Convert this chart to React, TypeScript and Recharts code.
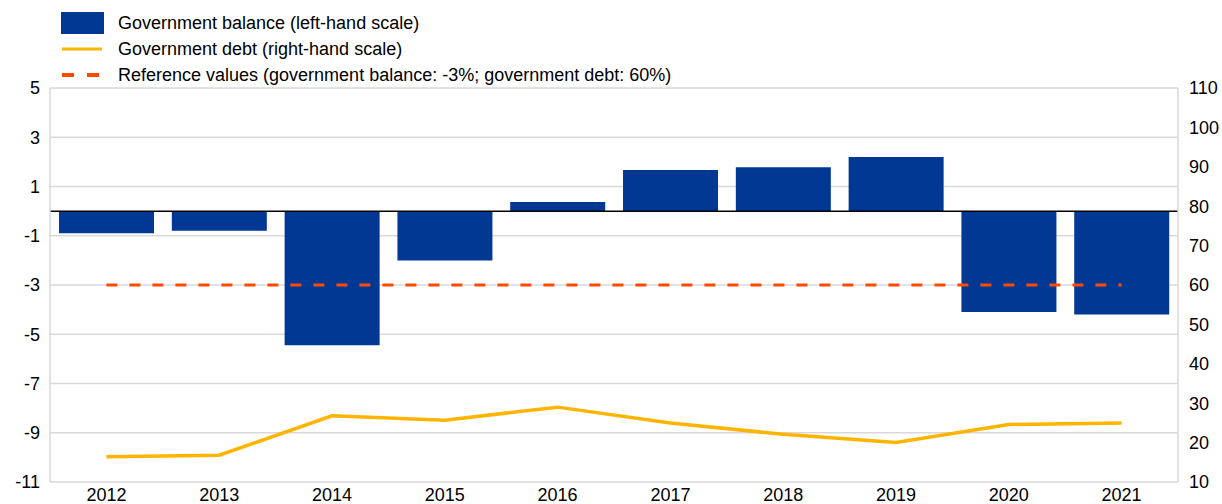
import {
  ComposedChart,
  Bar,
  Line,
  XAxis,
  YAxis,
  CartesianGrid,
  ReferenceLine
} from 'recharts';

const YEARS = ['2012', '2013', '2014', '2015', '2016', '2017', '2018', '2019', '2020', '2021'];
const BALANCE = [-0.9, -0.8, -5.45, -2.0, 0.37, 1.67, 1.78, 2.2, -4.1, -4.2];
const DEBT = [16.4, 16.8, 26.8, 25.7, 29.0, 25.0, 22.1, 20.0, 24.6, 25.0];
const BALANCE_REF = [-3, -3, -3, -3, -3, -3, -3, -3, -3, -3];

const LEFT_TICKS = [-11, -9, -7, -5, -3, -1, 1, 3, 5];
const RIGHT_TICKS = [10, 20, 30, 40, 50, 60, 70, 80, 90, 100, 110];
const BOUNDARY_TICKS = [0, 1, 2, 3, 4, 5, 6, 7, 8, 9, 10];

const LEGEND_LABELS = [
  'Government balance (left-hand scale)',
  'Government debt (right-hand scale)',
  'Reference values (government balance: -3%; government debt: 60%)'
];

const BLUE = '#003894';
const YELLOW = '#FFB400';
const ORANGE = '#FF4B00';
const GRID = '#d9d9d9';
const FONT = "'Liberation Sans', Arial, sans-serif";

const data = YEARS.map((year, i) => ({
  year,
  idx: i + 0.5,
  balance: BALANCE[i],
  debt: DEBT[i],
  balanceRef: BALANCE_REF[i]
}));

function ChartLegend() {
  return (
    <div
      style={{
        position: 'absolute',
        left: 0,
        top: 10,
        fontFamily: FONT,
        fontSize: 18,
        color: '#000',
        whiteSpace: 'nowrap'
      }}
    >
      {LEGEND_LABELS.map((label, i) => (
        <div key={label} style={{ display: 'flex', alignItems: 'center', height: 26 }}>
          <svg width={118} height={26} style={{ flex: 'none' }}>
            {i === 0 && <rect x={61} y={2} width={43} height={22} fill={BLUE} />}
            {i === 1 && <line x1={62} x2={102} y1={13} y2={13} stroke={YELLOW} strokeWidth={3} />}
            {i === 2 && (
              <line x1={62} x2={99} y1={13} y2={13} stroke={ORANGE} strokeWidth={4} strokeDasharray="12 13" />
            )}
          </svg>
          <span>{label}</span>
        </div>
      ))}
    </div>
  );
}

export default function App() {
  return (
    <div style={{ position: 'absolute', left: 0, top: 0, width: 1222, height: 504, background: '#fff' }}>
      <ComposedChart
        width={1222}
        height={504}
        data={data}
        margin={{ top: 88, right: 0, bottom: 0, left: 0 }}
        barCategoryGap="8%"
      >
        <CartesianGrid vertical={false} stroke={GRID} strokeWidth={1.5} yAxisId="left" />
        <XAxis
          xAxisId="bounds"
          type="number"
          dataKey="idx"
          domain={[0, 10]}
          ticks={BOUNDARY_TICKS}
          height={0}
          axisLine={{ stroke: GRID, strokeWidth: 1.5 }}
          tickLine={{ stroke: GRID }}
          tickSize={5}
          tickFormatter={() => ''}
        />
        <XAxis
          dataKey="year"
          height={22}
          axisLine={false}
          tickLine={false}
          tickSize={0}
          tickMargin={6}
          interval={0}
          tick={{ fill: '#000', fontSize: 18, fontFamily: FONT }}
        />
        <YAxis
          yAxisId="left"
          orientation="left"
          width={50}
          domain={[-11, 5]}
          ticks={LEFT_TICKS}
          interval={0}
          axisLine={{ stroke: GRID, strokeWidth: 1.5 }}
          tickLine={false}
          tickSize={0}
          tickMargin={10}
          tick={{ fill: '#000', fontSize: 18, fontFamily: FONT }}
        />
        <YAxis
          yAxisId="right"
          orientation="right"
          width={44}
          domain={[10, 110]}
          ticks={RIGHT_TICKS}
          interval={0}
          axisLine={{ stroke: GRID, strokeWidth: 1.5 }}
          tickLine={false}
          tickSize={0}
          tickMargin={11}
          tick={{ fill: '#000', fontSize: 18, fontFamily: FONT }}
        />
        <Bar yAxisId="left" dataKey="balance" fill={BLUE} isAnimationActive={false} />
        <ReferenceLine yAxisId="left" y={0} stroke="#000" strokeWidth={1.5} />
        <Line
          yAxisId="left"
          dataKey="balanceRef"
          stroke={ORANGE}
          strokeWidth={3}
          strokeDasharray="11 12"
          dot={false}
          activeDot={false}
          isAnimationActive={false}
        />
        <Line
          yAxisId="right"
          dataKey="debt"
          stroke={YELLOW}
          strokeWidth={3.5}
          dot={false}
          activeDot={false}
          isAnimationActive={false}
        />
      </ComposedChart>
      <ChartLegend />
    </div>
  );
}
